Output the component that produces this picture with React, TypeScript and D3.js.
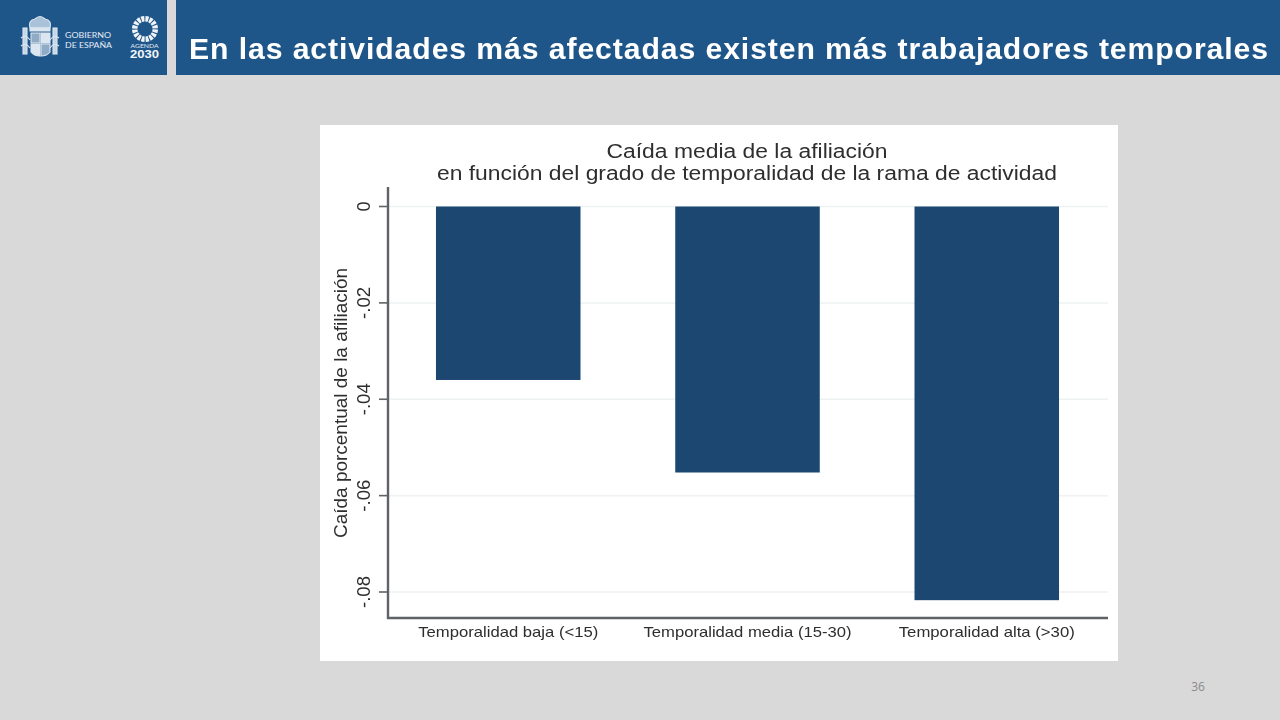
import React from "react";
import * as d3 from "d3";

const categories = ["Temporalidad baja (<15)", "Temporalidad media (15-30)", "Temporalidad alta (>30)"];
const values = [-0.036, -0.0552, -0.0817];
const yTicks = [0, -0.02, -0.04, -0.06, -0.08];
const yTickLabels = ["0", "-.02", "-.04", "-.06", "-.08"];
const titleLines = ["Caída media de la afiliación", "en función del grado de temporalidad de la rama de actividad"];
const yTitle = "Caída porcentual de la afiliación";
const slideTitle = "En las actividades más afectadas existen más trabajadores temporales";
const ringSegments = d3.range(16);

const titleWidths = [281, 620];
const labelWidths = [180, 208, 176];
const tickWidths = [10, 32, 32, 32, 32];

const sans = "Liberation Sans, Arial, sans-serif";
const navy = "#1a4670";
const ink = "#2e2e2e";
const header = "#1f568a";
const axis = "#5f6366";

export default function App() {
  const y = d3.scaleLinear().domain([0, -0.08]).range([206.5, 592]);
  const x = d3.scaleBand<string>().domain(categories).range([388.6, 1106.4]).paddingInner(0.396).paddingOuter(0.198);
  const ringArc = d3.arc<number>()
    .innerRadius(7.5).outerRadius(13)
    .startAngle((d) => (d / ringSegments.length) * 2 * Math.PI + 0.04)
    .endAngle((d) => ((d + 1) / ringSegments.length) * 2 * Math.PI - 0.06);

  return (
    <svg width={1280} height={720} style={{ position: "fixed", left: 0, top: 0, display: "block" }}>
      <defs>
        <filter id="soft" x="-5%" y="-5%" width="110%" height="110%"><feGaussianBlur stdDeviation="0.4" /></filter>
        <filter id="softer" x="-5%" y="-5%" width="110%" height="110%"><feGaussianBlur stdDeviation="0.3" /></filter>
      </defs>
      <rect width={1280} height={720} fill="#d9d9d9" />
      <rect x={0} y={0} width={167} height={75} fill={header} />
      <rect x={176} y={0} width={1104} height={75} fill={header} />

      {/* Coat of arms */}
      <g filter="url(#soft)" fill="none" stroke="#dbe6f0" strokeWidth={1.1}>
        <path d="M30 28 Q28 20 35 19 Q40 14 45 19 Q52 20 50 28 Z" fill="#a9c2d9" />
        <rect x={30} y={28} width={20} height={3} fill="#dbe6f0" />
        <rect x={31} y={33} width={9} height={10} fill="#8fabc6" />
        <rect x={41} y={33} width={9} height={10} fill="#dbe6f0" />
        <path d="M31 44 H40 V56 Q34 56 31 52 Z" fill="#dbe6f0" />
        <path d="M41 44 H50 V52 Q47 56 41 56 Z" fill="#8fabc6" />
        <rect x={23} y={28} width={4} height={26} fill="#c6d7e6" />
        <rect x={53} y={28} width={4} height={26} fill="#c6d7e6" />
        <path d="M21 38 Q26 34 30 40 M59 38 Q54 34 50 40 M21 46 Q26 42 30 48 M59 46 Q54 42 50 48" />
      </g>
      <text x={65} y={38} fontFamily="Lato, sans-serif" fontSize={8.4} fill="#e4edf5" textLength={46} lengthAdjust="spacingAndGlyphs">GOBIERNO</text>
      <text x={65} y={48} fontFamily="Lato, sans-serif" fontSize={8.4} fill="#e4edf5" textLength={47} lengthAdjust="spacingAndGlyphs">DE ESPAÑA</text>

      {/* Agenda 2030 */}
      <g transform="translate(145,29)">
        {ringSegments.map((d) => <path key={d} d={ringArc(d) ?? ""} fill="#f2f5f8" />)}
      </g>
      <text x={144.5} y={48} textAnchor="middle" fontFamily="Lato, sans-serif" fontSize={6} fill="#e4edf5" textLength={28} lengthAdjust="spacingAndGlyphs">AGENDA</text>
      <text x={144.5} y={58} textAnchor="middle" fontFamily={sans} fontSize={11} fontWeight={700} fill="#f5f7fa" textLength={29} lengthAdjust="spacingAndGlyphs">2030</text>

      <g filter="url(#softer)">
        <text x={189} y={58.5} fontFamily={sans} fontSize={30} fontWeight={700} fill="#ffffff" letterSpacing={0.9} textLength={1080} lengthAdjust="spacingAndGlyphs">{slideTitle}</text>
      </g>

      {/* Embedded figure */}
      <rect x={320} y={125} width={798} height={536} fill="#ffffff" />
      <g filter="url(#soft)">
        {titleLines.map((t, i) => (
          <text key={t} x={747} y={158 + i * 22} textAnchor="middle" fontFamily={sans} fontSize={19.5} fill={ink} textLength={titleWidths[i]} lengthAdjust="spacingAndGlyphs">{t}</text>
        ))}

        {yTicks.map((t) => (
          <line key={t} x1={388} x2={1108} y1={y(t)} y2={y(t)} stroke="#eef2f2" strokeWidth={1.5} />
        ))}

        {categories.map((c, i) => (
          <rect key={c} x={x(c)} y={y(0)} width={x.bandwidth()} height={y(values[i]) - y(0)} fill={navy} />
        ))}

        <line x1={388} x2={388} y1={187} y2={619} stroke={axis} strokeWidth={2.4} />
        <line x1={387} x2={1108} y1={618} y2={618} stroke={axis} strokeWidth={2.4} />

        {yTicks.map((t, i) => (
          <g key={t}>
            <line x1={379} x2={388} y1={y(t)} y2={y(t)} stroke={axis} strokeWidth={1.6} />
            <text transform={`translate(369.5,${y(t)}) rotate(-90)`} textAnchor="middle" fontFamily={sans} fontSize={18} fill={ink} textLength={tickWidths[i]} lengthAdjust="spacingAndGlyphs">{yTickLabels[i]}</text>
          </g>
        ))}

        <text transform="translate(347,403) rotate(-90)" textAnchor="middle" fontFamily={sans} fontSize={18} fill={ink} textLength={270} lengthAdjust="spacingAndGlyphs">{yTitle}</text>

        {categories.map((c, i) => (
          <text key={c} x={x(c)! + x.bandwidth() / 2} y={637} textAnchor="middle" fontFamily={sans} fontSize={14.2} fill={ink} textLength={labelWidths[i]} lengthAdjust="spacingAndGlyphs">{c}</text>
        ))}
      </g>

      <text x={1198} y={691} textAnchor="middle" fontFamily="Open Sans, sans-serif" fontSize={12} fill="#8a8a8a">36</text>
    </svg>
  );
}
